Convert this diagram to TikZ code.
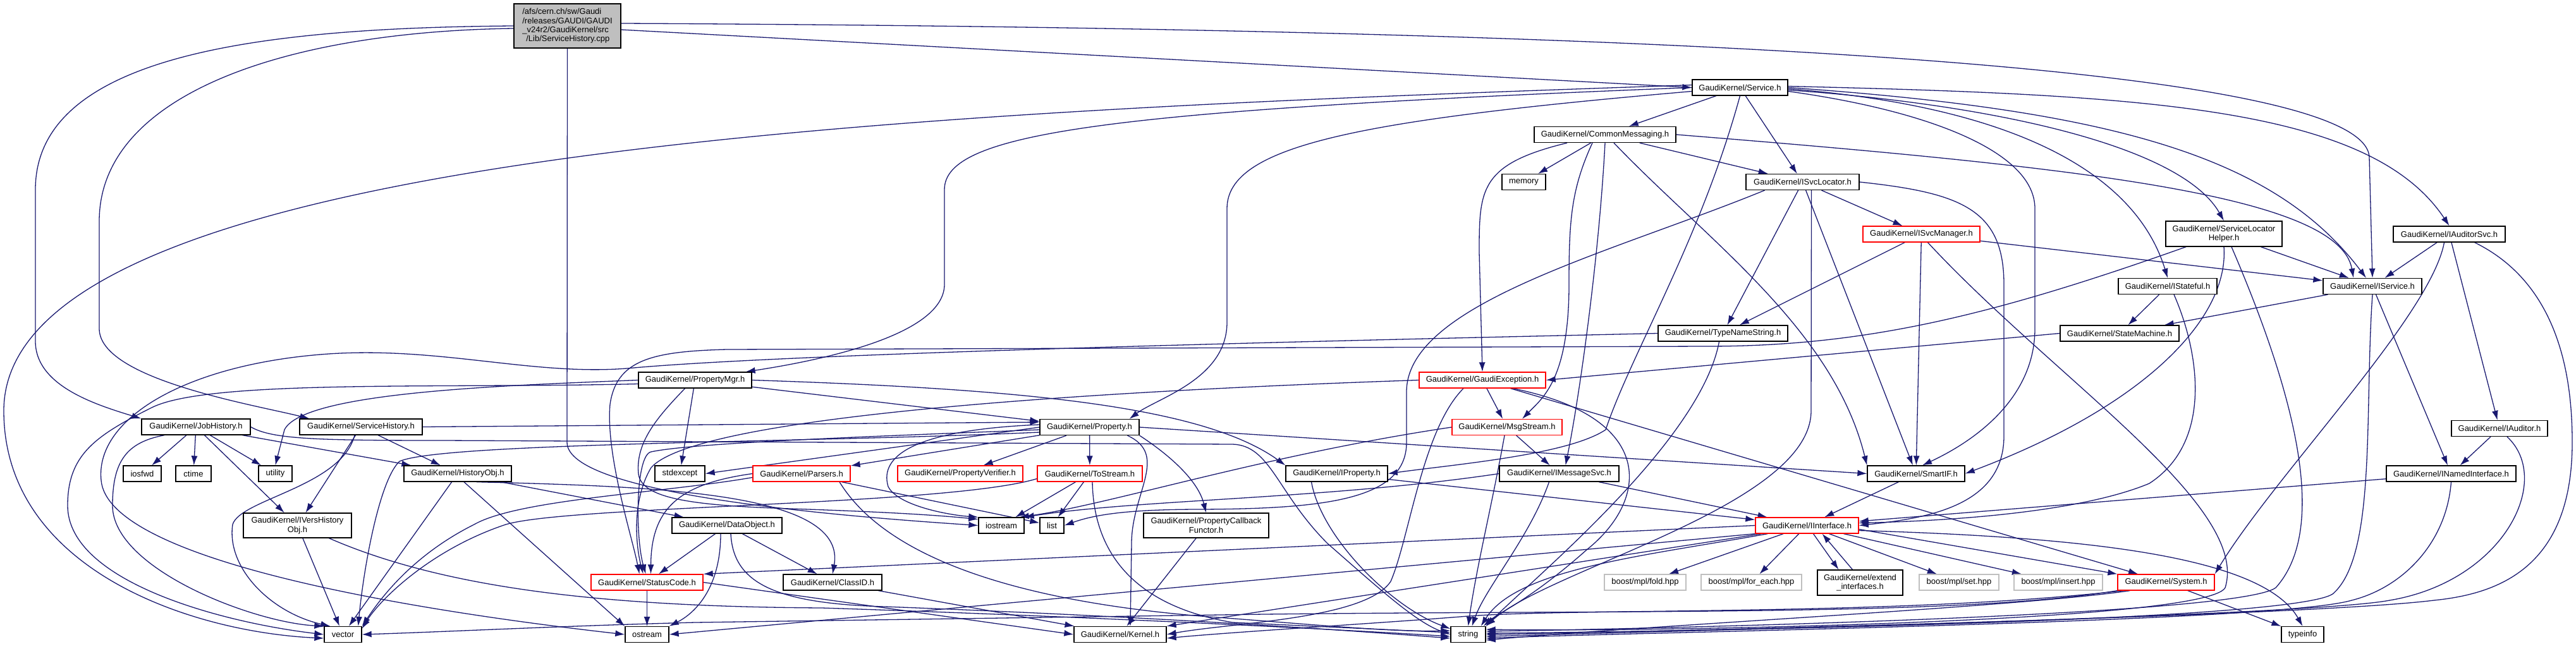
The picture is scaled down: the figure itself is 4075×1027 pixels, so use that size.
\documentclass[tikz,border=0pt]{standalone}
\usepackage{fontspec}
\setmainfont{Liberation Sans}
\usetikzlibrary{arrows.meta}
\definecolor{edgeblue}{HTML}{191970}
\definecolor{boxgray}{HTML}{BFBFBF}
\pgfdeclarelayer{background}
\pgfsetlayers{background,main}
\begin{document}
\begin{tikzpicture}[x=0.5pt,y=-0.5pt,
  nd/.style={draw=black, line width=0.65pt, fill=white, inner sep=0pt, minimum height=12.5pt, font=\fontsize{6.5pt}{7.2pt}\selectfont, align=center},
  rnd/.style={nd, draw=red},
  gnd/.style={nd, draw=boxgray},
  e/.style={draw=edgeblue, line width=0.65pt, -{Latex[length=7.5pt,width=5pt]}}]
\useasboundingbox (0,0) rectangle (4075,1027);

% ---------- nodes ----------
\node[nd, fill=boxgray, minimum width=84.5pt, minimum height=35pt, align=left] (root) at (897.5,41) {/afs/cern.ch/sw/Gaudi\\/releases/GAUDI/GAUDI\\\_v24r2/GaudiKernel/src\\\hspace*{3pt}/Lib/ServiceHistory.cpp};
\node[nd, minimum width=75.5pt] (svc) at (2752.5,138.5) {GaudiKernel/Service.h};
\node[nd, minimum width=112pt] (cm) at (2539,213) {GaudiKernel/CommonMessaging.h};
\node[nd, minimum width=34.5pt] (mem) at (2410.5,288) {memory};
\node[nd, minimum width=89.5pt] (isl) at (2851.5,288) {GaudiKernel/ISvcLocator.h};
\node[rnd, minimum width=92.5pt] (ism) at (3039.5,370.5) {GaudiKernel/ISvcManager.h};
\node[nd, minimum width=92pt, minimum height=20pt] (slh) at (3518,370) {GaudiKernel/ServiceLocator\\Helper.h};
\node[nd, minimum width=88.5pt] (ias) at (3874.5,370.5) {GaudiKernel/IAuditorSvc.h};
\node[nd, minimum width=78pt] (ist) at (3429,453) {GaudiKernel/IStateful.h};
\node[nd, minimum width=78pt] (isv) at (3753,453) {GaudiKernel/IService.h};
\node[nd, minimum width=102.5pt] (tns) at (2725.5,527.5) {GaudiKernel/TypeNameString.h};
\node[nd, minimum width=94pt] (stm) at (3353,527.5) {GaudiKernel/StateMachine.h};
\node[nd, minimum width=89.5pt] (pmg) at (1099.5,601.5) {GaudiKernel/PropertyMgr.h};
\node[rnd, minimum width=100pt] (gex) at (2345,601.5) {GaudiKernel/GaudiException.h};
\node[nd, minimum width=86pt] (jh) at (310,675.5) {GaudiKernel/JobHistory.h};
\node[nd, minimum width=97pt] (sh) at (571,675.5) {GaudiKernel/ServiceHistory.h};
\node[nd, minimum width=78.5pt] (prop) at (1723.5,676) {GaudiKernel/Property.h};
\node[rnd, minimum width=87pt] (msg) at (2384,676) {GaudiKernel/MsgStream.h};
\node[nd, minimum width=76pt] (iau) at (3954,678) {GaudiKernel/IAuditor.h};
\node[nd, minimum width=30pt] (iosfwd) at (225,749.5) {iosfwd};
\node[nd, minimum width=28pt] (ctime) at (306,749.5) {ctime};
\node[nd, minimum width=26.5pt] (util) at (435.5,749.5) {utility};
\node[nd, minimum width=85pt] (ho) at (724,749.5) {GaudiKernel/HistoryObj.h};
\node[nd, minimum width=39.5pt] (stdx) at (1075.5,749.5) {stdexcept};
\node[rnd, minimum width=77pt] (pars) at (1268,749.5) {GaudiKernel/Parsers.h};
\node[rnd, minimum width=99pt] (pver) at (1519,749.5) {GaudiKernel/PropertyVerifier.h};
\node[rnd, minimum width=83pt] (tos) at (1724,749.5) {GaudiKernel/ToStream.h};
\node[nd, minimum width=80.5pt] (iprop) at (2114.5,749.5) {GaudiKernel/IProperty.h};
\node[nd, minimum width=94.5pt] (imsg) at (2466.5,749.5) {GaudiKernel/IMessageSvc.h};
\node[nd, minimum width=77pt] (sif) at (3031,749.5) {GaudiKernel/SmartIF.h};
\node[nd, minimum width=102.5pt] (inam) at (3877.5,749.5) {GaudiKernel/INamedInterface.h};
\node[nd, minimum width=85.5pt, minimum height=19.5pt] (ivh) at (470.5,831.5) {GaudiKernel/IVersHistory\\Obj.h};
\node[nd, minimum width=87pt] (dobj) at (1150,831.5) {GaudiKernel/DataObject.h};
\node[nd, minimum width=36pt] (iostr) at (1584,831.5) {iostream};
\node[nd, minimum width=19pt] (lst) at (1664,831.5) {list};
\node[nd, minimum width=99pt, minimum height=19.5pt] (pcf) at (1908,831.5) {GaudiKernel/PropertyCallback\\Functor.h};
\node[rnd, minimum width=81.5pt] (iif) at (2858.5,831.5) {GaudiKernel/IInterface.h};
\node[rnd, minimum width=88.5pt] (sc) at (1023.5,921.5) {GaudiKernel/StatusCode.h};
\node[nd, minimum width=78pt] (cid) at (1317,921.5) {GaudiKernel/ClassID.h};
\node[gnd, minimum width=64.5pt] (fold) at (2602.5,921.5) {boost/mpl/fold.hpp};
\node[gnd, minimum width=79.5pt] (fore) at (2770.5,921.5) {boost/mpl/for\_each.hpp};
\node[nd, minimum width=67.5pt, minimum height=20pt] (ext) at (2942.5,922) {GaudiKernel/extend\\\_interfaces.h};
\node[gnd, minimum width=63pt] (mset) at (3099,921.5) {boost/mpl/set.hpp};
\node[gnd, minimum width=70pt] (mins) at (3256,921.5) {boost/mpl/insert.hpp};
\node[rnd, minimum width=76.5pt] (sys) at (3426.5,921.5) {GaudiKernel/System.h};
\node[nd, minimum width=29.5pt] (vec) at (542.5,1004) {vector};
\node[nd, minimum width=34.5pt] (ost) at (1023.5,1004) {ostream};
\node[nd, minimum width=73pt] (ker) at (1772,1004) {GaudiKernel/Kernel.h};
\node[nd, minimum width=27.5pt] (str) at (2322.5,1004) {string};
\node[nd, minimum width=33.5pt] (tinfo) at (3642.5,1004) {typeinfo};

% ---------- edges ----------
\begin{pgfonlayer}{background}
% root
\draw[e] (root.west) .. controls (400,44) and (56,90) .. (56,300) -- (56,540) .. controls (56,610) and (150,640) .. (jh.north west);
\draw[e] ([yshift=-2pt]root.west) .. controls (450,50) and (157,150) .. (157,350) -- (157,520) .. controls (157,600) and (400,640) .. ([xshift=8pt]sh.north west);
\draw[e] ([yshift=-3pt]root.east) -- (svc.west);
\draw[e] ([yshift=2pt]root.east) .. controls (2600,45) and (3748,100) .. (3748,250) -- (isv.north);
\draw[e] (root.south) -- (897,700) .. controls (897,780) and (1300,815) .. (iostr.west);
% Service.h
\draw[e] (svc) -- (cm);
\draw[e] (svc) -- (isl);
\draw[e] (svc.west) .. controls (1750,175) and (1494,210) .. (1494,300) -- (1494,450) .. controls (1494,530) and (1300,570) .. ([xshift=-5pt]pmg.north east);
\draw[e] ([yshift=-3pt]svc.west) .. controls (2150,190) and (1941,230) .. (1941,330) -- (1941,510) .. controls (1941,600) and (1830,630) .. ([xshift=-8pt]prop.north east);
\draw[e] ([yshift=2pt]svc.west) .. controls (1500,175) and (6,230) .. (6,650) .. controls (6,900) and (300,1000) .. ([yshift=-3pt]vec.west);
\draw[e] (svc.south) .. controls (2690,380) and (2580,560) .. (2540,680) .. controls (2480,720) and (2300,735) .. (iprop.east);
\draw[e] ([yshift=1pt]svc.east) .. controls (3400,150) and (3750,170) .. (ias.north);
\draw[e] (svc.east) .. controls (3350,175) and (3600,250) .. ([xshift=-5pt]isv.north);
\draw[e] ([yshift=-1pt]svc.east) .. controls (3200,170) and (3380,280) .. (ist.north);
\draw[e] ([yshift=-2pt]svc.east) .. controls (3150,165) and (3450,230) .. (slh.north);
\draw[e] ([yshift=-3pt]svc.east) .. controls (3050,175) and (3219,240) .. (3219,330) -- (3219,520) .. controls (3219,620) and (3140,690) .. ([xshift=5pt]sif.north);
% CommonMessaging.h
\draw[e] (cm) -- (mem);
\draw[e] (cm) -- (isl);
\draw[e] (cm.east) .. controls (3300,265) and (3700,310) .. ([xshift=-15pt]isv.north);
\draw[e] ([xshift=-30pt]cm.south) .. controls (2340,260) and (2340,300) .. (2340,400) -- (gex.north);
\draw[e] ([xshift=-10pt]cm.south) .. controls (2485,300) and (2482,350) .. (2482,450) .. controls (2482,600) and (2440,630) .. ([xshift=12pt]msg.north);
\draw[e] (cm.south) .. controls (2530,400) and (2500,620) .. ([xshift=5pt]imsg.north);
\draw[e] ([xshift=7pt]cm.south) .. controls (2700,380) and (2900,520) .. (sif.north west);
% ISvcLocator.h
\draw[e] (isl) -- (ism);
\draw[e] (isl) -- (tns);
\draw[e] (isl) -- (sif);
\draw[e] ([xshift=7pt]isl.south) -- (2865,650) .. controls (2865,800) and (2450,900) .. (str.north east);
\draw[e] ([xshift=-30pt]isl.south) .. controls (2550,400) and (2225,480) .. (2225,620) -- (2225,700) .. controls (2225,790) and (2100,805) .. (1900,806) .. controls (1780,806) and (1730,815) .. (lst.east);
\draw[e] (isl.east) .. controls (3100,305) and (3170,330) .. (3170,450) -- (3170,690) .. controls (3170,800) and (3050,820) .. (iif.east);
% ISvcManager.h
\draw[e] (ism) -- (isv);
\draw[e] (ism) -- (tns);
\draw[e] (ism) -- (sif);
\draw[e] ([xshift=5pt]ism.south) .. controls (3250,600) and (3560,800) .. (3520,930) .. controls (3490,985) and (2600,1000) .. ([yshift=4pt]str.east);
% ServiceLocatorHelper.h
\draw[e] (slh) -- (isv);
\draw[e] (slh.south) .. controls (3526,500) and (3400,640) .. (sif.east);
\draw[e] ([xshift=6pt]slh.south) .. controls (3620,600) and (3690,830) .. (3600,930) .. controls (3540,975) and (2600,995) .. ([yshift=2.5pt]str.east);
\draw[e] ([xshift=-30pt]slh.south) .. controls (3150,500) and (2950,548) .. (2700,548) -- (1150,553) .. controls (1030,556) and (975,570) .. (965,640) .. controls (958,720) and (1000,850) .. ([xshift=-6pt]sc.north);
% IAuditorSvc.h
\draw[e] (ias) -- (isv);
\draw[e] (ias) -- (iau);
\draw[e] ([xshift=-4pt]ias.south) .. controls (3845,500) and (3600,750) .. (sys.north east);
\draw[e] ([xshift=20pt]ias.south) .. controls (4050,450) and (4069,600) .. (4069,700) .. controls (4069,900) and (3950,940) .. (3850,950) .. controls (3650,975) and (2600,1000) .. (str.east);
% IStateful.h
\draw[e] (ist) -- (stm);
\draw[e] ([xshift=5pt]ist.south) .. controls (3480,560) and (3500,700) .. (3400,765) .. controls (3280,815) and (3050,825) .. ([yshift=2pt]iif.east);
% IService.h
\draw[e] (isv) -- (stm);
\draw[e] (isv) -- (inam);
\draw[e] (isv.south) .. controls (3740,650) and (3760,880) .. (3690,940) .. controls (3620,985) and (2600,1000) .. ([yshift=1pt]str.east);
% IAuditor.h / INamedInterface.h
\draw[e] (iau) -- (inam);
\draw[e] ([xshift=6pt]iau.south) .. controls (4040,760) and (3960,920) .. (3780,950) .. controls (3650,975) and (2600,1000) .. ([yshift=-1.5pt]str.east);
\draw[e] (inam) -- (iif);
\draw[e] (inam.south) .. controls (3870,860) and (3800,930) .. (3720,950) .. controls (3600,985) and (2600,1000) .. ([yshift=-3pt]str.east);
% StateMachine.h
\draw[e] (stm.west) -- (gex.east);
% TypeNameString.h
\draw[e] ([xshift=-3pt]tns.south) .. controls (2690,700) and (2420,920) .. (str.north east);
\draw[e] (tns.west) .. controls (2300,535) and (1300,556) .. (1003,582) .. controls (850,597) and (700,548) .. (520,560) .. controls (300,575) and (150,660) .. (160,760) .. controls (170,880) and (600,960) .. (ost.west);
% PropertyMgr.h
\draw[e] (pmg) -- (prop);
\draw[e] (pmg) -- (stdx);
\draw[e] (pmg.west) .. controls (800,610) and (480,620) .. (450,680) -- (util.north);
\draw[e] ([yshift=-3pt]pmg.west) .. controls (700,615) and (330,600) .. (240,645) .. controls (150,690) and (107,720) .. (107,800) .. controls (107,920) and (350,985) .. (vec.west);
\draw[e] ([xshift=-8pt]pmg.south) .. controls (1040,660) and (1005,700) .. (1010,750) .. controls (1015,790) and (1100,800) .. (1250,805) .. controls (1400,810) and (1480,815) .. (iostr.165);
\draw[e] (pmg.east) .. controls (1600,615) and (1900,640) .. (iprop.north west);
% Property.h
\draw[e] (prop) -- (pars);
\draw[e] (prop) -- (pver);
\draw[e] (prop) -- (tos);
\draw[e] (prop.west) -- (stdx.east);
\draw[e] (prop.east) -- (sif.west);
\draw[e] (prop.south east) .. controls (1850,720) and (1895,760) .. (pcf.north);
\draw[e] ([yshift=2pt]prop.west) .. controls (1450,680) and (1390,720) .. (1405,770) .. controls (1420,800) and (1500,815) .. (iostr.north west);
\draw[e] ([yshift=-2pt]prop.west) .. controls (1400,690) and (1100,700) .. (1030,715) .. controls (1005,720) and (1005,850) .. ([xshift=-1pt]sc.north);
\draw[e] ([yshift=-4pt]prop.west) .. controls (1300,700) and (700,700) .. (632,730) .. controls (600,760) and (575,900) .. ([xshift=-3pt]vec.north east);
\draw[e] ([xshift=30pt]prop.south) .. controls (1850,720) and (1790,780) .. (1790,860) -- ([xshift=8pt]ker.north);
% Parsers.h
\draw[e] (pars) -- (lst);
\draw[e] (pars.west) .. controls (1080,765) and (1030,800) .. ([xshift=3pt]sc.north);
\draw[e] ([xshift=30pt]pars.south) .. controls (1400,880) and (1600,950) .. (1900,975) .. controls (2100,990) and (2200,1000) .. ([yshift=3pt]str.west);
\draw[e] ([yshift=-3pt]pars.west) .. controls (1050,780) and (820,790) .. (750,830) .. controls (650,880) and (600,950) .. (vec.north east);
% ToStream.h
\draw[e] (tos) -- (iostr);
\draw[e] (tos) -- (lst);
\draw[e] ([xshift=2pt]tos.south) .. controls (1730,880) and (1800,960) .. (1950,985) -- ([yshift=1.5pt]str.west);
\draw[e] ([yshift=-4pt]tos.west) .. controls (1500,800) and (900,800) .. (800,830) .. controls (680,870) and (600,950) .. ([yshift=-2pt]vec.north east);
% PropertyCallbackFunctor.h
\draw[e] (pcf) -- (ker);
% IProperty.h
\draw[e] (iprop) -- (iif);
\draw[e] ([xshift=-20pt]iprop.south) .. controls (2090,850) and (2200,960) .. ([yshift=4.5pt]str.west);
% IMessageSvc.h
\draw[e] (imsg) -- (iif);
\draw[e] ([xshift=-8pt]imsg.south) .. controls (2420,850) and (2350,930) .. ([xshift=3pt]str.north);
\draw[e] (imsg.west) .. controls (2100,790) and (1800,790) .. (iostr.north east);
% MsgStream.h
\draw[e] (msg) -- (imsg);
\draw[e] ([xshift=-2pt]msg.south) .. controls (2360,800) and (2335,900) .. (str.north);
\draw[e] (msg.west) .. controls (2000,720) and (1750,800) .. ([xshift=-4pt]iostr.north east);
% GaudiException.h
\draw[e] (gex) -- (msg);
\draw[e] (gex) -- (sys);
\draw[e] ([xshift=24pt]gex.south) .. controls (2620,660) and (2610,790) .. (2510,870) .. controls (2420,950) and (2370,970) .. ([xshift=-2pt]str.north east);
\draw[e] ([xshift=-15pt]gex.south) .. controls (2250,680) and (2230,850) .. (2200,920) .. controls (2160,980) and (1950,985) .. (ker.east);
\draw[e] (gex.west) .. controls (1700,620) and (1100,660) .. (1030,740) .. controls (1000,790) and (1005,860) .. ([xshift=-3pt]sc.north);
% JobHistory.h
\draw[e] (jh) -- (iosfwd);
\draw[e] (jh) -- (ctime);
\draw[e] (jh) -- (util);
\draw[e] (jh) -- (ho);
\draw[e] (jh) -- (ivh);
\draw[e] ([xshift=-25pt]jh.south) .. controls (200,700) and (178,730) .. (178,800) .. controls (178,900) and (400,985) .. (vec.north west);
\draw[e] (jh.east) .. controls (430,695) and (500,697) .. (700,697) -- (1950,703) .. controls (2010,705) and (2020,780) .. (2100,860) .. controls (2180,930) and (2240,985) .. (str.west);
% ServiceHistory.h
\draw[e] (sh) -- (ho);
\draw[e] (sh) -- (ivh);
\draw[e] ([xshift=-5pt]sh.south) .. controls (540,770) and (380,790) .. (368,830) .. controls (358,900) and (430,970) .. ([xshift=5pt]vec.north west);
\draw[e] (sh.east) -- ([yshift=4pt]prop.west);
% HistoryObj.h
\draw[e] (ho) -- (vec);
\draw[e] ([xshift=5pt]ho.south) -- (ost.north west);
\draw[e] (ho) -- (dobj);
\draw[e] ([xshift=15pt]ho.south) .. controls (1050,770) and (1340,780) .. (cid.north);
% IVersHistoryObj.h
\draw[e] (ivh) -- (vec);
\draw[e] ([xshift=25pt]ivh.south) .. controls (700,930) and (950,960) .. (1300,962) .. controls (1700,975) and (2100,995) .. ([yshift=-1.5pt]str.west);
% DataObject.h
\draw[e] (dobj) -- (sc);
\draw[e] (dobj) -- (cid);
\draw[e] ([xshift=-5pt]dobj.south) .. controls (1140,930) and (1100,970) .. (ost.north east);
\draw[e] ([xshift=3pt]dobj.south) .. controls (1160,920) and (1220,955) .. (1400,960) .. controls (1800,975) and (2100,995) .. ([yshift=-3pt]str.west);
% ClassID.h / StatusCode.h
\draw[e] (cid) -- (ker);
\draw[e] (sc) -- (ost);
\draw[e] (sc.east) -- (ker.west);
% IInterface.h
\draw[e] (iif.west) -- (sc.north east);
\draw[e] (iif.south west) -- (ost.east);
\draw[e] ([xshift=5pt]iif.south west) -- (ker.north east);
\draw[e] ([xshift=10pt]iif.south west) .. controls (2600,880) and (2400,900) .. ([xshift=-4pt]str.north east);
\draw[e] (iif) -- (fold);
\draw[e] (iif) -- (fore);
\draw[e] ([xshift=5pt]iif.south) -- ([xshift=-17pt]ext.north);
\draw[e] ([xshift=-6pt]ext.north) -- ([xshift=12pt]iif.south);
\draw[e] (iif) -- (mset);
\draw[e] (iif) -- (mins);
\draw[e] ([yshift=-3pt]iif.east) -- (sys.north west);
\draw[e] ([yshift=-4pt]iif.east) .. controls (3300,850) and (3580,880) .. (tinfo.north);
% SmartIF.h
\draw[e] (sif) -- (iif);
% System.h
\draw[e] (sys) -- (tinfo);
\draw[e] ([xshift=10pt]sys.south west) .. controls (3200,960) and (2600,990) .. ([yshift=-4.5pt]str.east);
\draw[e] ([xshift=5pt]sys.south west) .. controls (3000,975) and (2500,962) .. (2322,975) .. controls (2200,985) and (1950,1000) .. ([yshift=-3pt]ker.east);
\draw[e] (sys.south west) .. controls (3100,975) and (2600,965) .. (2000,972) -- (1100,985) .. controls (900,990) and (700,1000) .. (vec.east);
\end{pgfonlayer}
\end{tikzpicture}
\end{document}
